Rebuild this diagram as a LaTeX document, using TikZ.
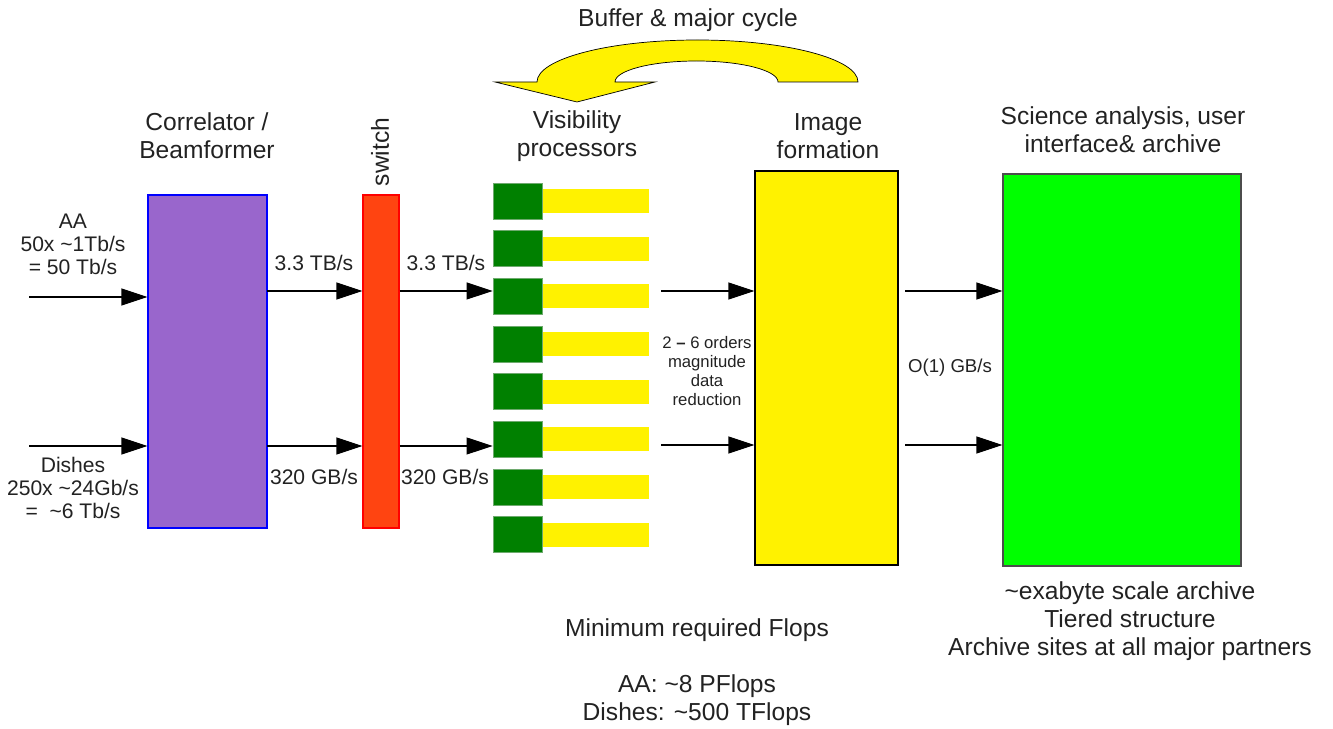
\documentclass[tikz,border=0pt]{standalone}
\usepackage{fontspec}
\setmainfont{Liberation Sans}
\usetikzlibrary{arrows.meta,fit}

\definecolor{corrpurple}{RGB}{153,102,204}
\definecolor{switchred}{RGB}{255,68,17}
\definecolor{visgreen}{RGB}{0,128,0}
\definecolor{visedge}{RGB}{110,170,110}
\definecolor{brightgreen}{RGB}{0,255,0}
\definecolor{txt}{RGB}{34,34,34}

\tikzset{
  flow/.style={line width=0.6pt, -{Triangle[length=0.52cm,width=0.34cm]}},
  blockbox/.style={inner sep=0pt, line width=0.6pt},
  heading/.style={text=txt, align=center, font=\fontsize{14}{16}\selectfont},
  rate/.style={text=txt, align=center, font=\fontsize{12}{13.1}\selectfont},
  smalltxt/.style={text=txt, align=center, font=\fontsize{9.5}{10.8}\selectfont},
  procsq/.style={fill=visgreen, draw=visedge, line width=0.5pt, inner sep=0pt},
  procbar/.style={fill=yellow, inner sep=0pt},
}

\begin{document}
\begin{tikzpicture}[x=0.02cm, y=-0.02cm]
\useasboundingbox (0,0) rectangle (1333,729);

% --- main blocks ---
\node[blockbox, fill=corrpurple, draw=blue, fit={(148,195) (267,528)}] (corr) {};
\node[blockbox, fill=switchred, draw=red, fit={(363,195) (399,528)}] (sw) {};
\node[blockbox, fill=yellow, draw=black, fit={(755,171) (898,565)}] (img) {};
\node[blockbox, fill=brightgreen, draw=black!70, fit={(1003,174) (1241,566)}] (sci) {};

% --- visibility processor stack ---
\foreach \i in {0,...,7} {
  \pgfmathsetmacro{\top}{183+47.7*\i}
  \node[procbar, fit={(542,\top+6) (649,\top+30)}] (bar\i) {};
  \node[procsq, fit={(493,\top) (542,\top+36)}] (vp\i) {};
}

% --- headings ---
\node[heading] (hcorr) at (207,136) {Correlator /\\Beamformer};
\node[heading, rotate=90] (hsw) at (380,152) {switch};
\node[heading] (hvis) at (577,136) {Visibility\\processors};
\node[heading] (himg) at (828,136) {Image\\formation};
\node[heading] (hsci) at (1123,130) {Science analysis, user\\interface\& archive};
\node[heading] (hbuf) at (688,20) {Buffer \& major cycle};

% --- buffer / major cycle arrow ---
\filldraw[fill=yellow, draw=black, line width=0.4pt]
  (858,82) arc[start angle=0, end angle=180, x radius=160.5, y radius=-42]
  -- (495,82) -- (577,102) -- (655,82) -- (615,82)
  arc[start angle=180, end angle=0, x radius=81.5, y radius=-21]
  -- cycle;

% --- inputs ---
\coordinate (aain) at (29,297);
\coordinate (dishin) at (29,446);
\node[rate] (aalbl) at (73,244) {AA\\50x \textasciitilde1Tb/s\\= 50 Tb/s};
\node[rate] (dishlbl) at (73,488) {Dishes\\250x \textasciitilde24Gb/s\\=\ \ \textasciitilde6 Tb/s};
\draw[flow] (aain) -- (aain -| corr.west);
\draw[flow] (dishin) -- (dishin -| corr.west);

% --- correlator -> switch -> processors ---
\coordinate (c1) at (267,291);
\coordinate (c2) at (267,446);
\draw[flow] (c1) -- (c1 -| sw.west);
\draw[flow] (c2) -- (c2 -| sw.west);
\draw[flow] (c1 -| sw.east) -- (c1 -| vp2.west);
\draw[flow] (c2 -| sw.east) -- (c2 -| vp5.west);
\node[rate] (r1) at (314,263) {3.3 TB/s};
\node[rate] (r2) at (446,263) {3.3 TB/s};
\node[rate] (r3) at (314,477) {320 GB/s};
\node[rate] (r4) at (445,477) {320 GB/s};

% --- processors -> image formation ---
\coordinate (m1) at (661,291);
\coordinate (m2) at (661,445);
\draw[flow] (m1) -- (m1 -| img.west);
\draw[flow] (m2) -- (m2 -| img.west);
\node[smalltxt] (red) at (707,371) {2 \textbf{--} 6 orders\\magnitude\\data\\reduction};

% --- image formation -> science ---
\coordinate (o1) at (905,291);
\coordinate (o2) at (905,445);
\draw[flow] (o1) -- (o1 -| sci.west);
\draw[flow] (o2) -- (o2 -| sci.west);
\node[text=txt, font=\fontsize{10.6}{12}\selectfont] (olbl) at (950,368) {O(1) GB/s};

% --- notes ---
\node[heading] (arch) at (1130,621) {\textasciitilde exabyte scale archive\\Tiered structure\\Archive sites at all major partners};
\node[heading] (flops) at (697,672) {Minimum required Flops\\[16pt]AA: \textasciitilde8 PFlops\\Dishes: \textasciitilde500 TFlops};
\end{tikzpicture}
\end{document}
